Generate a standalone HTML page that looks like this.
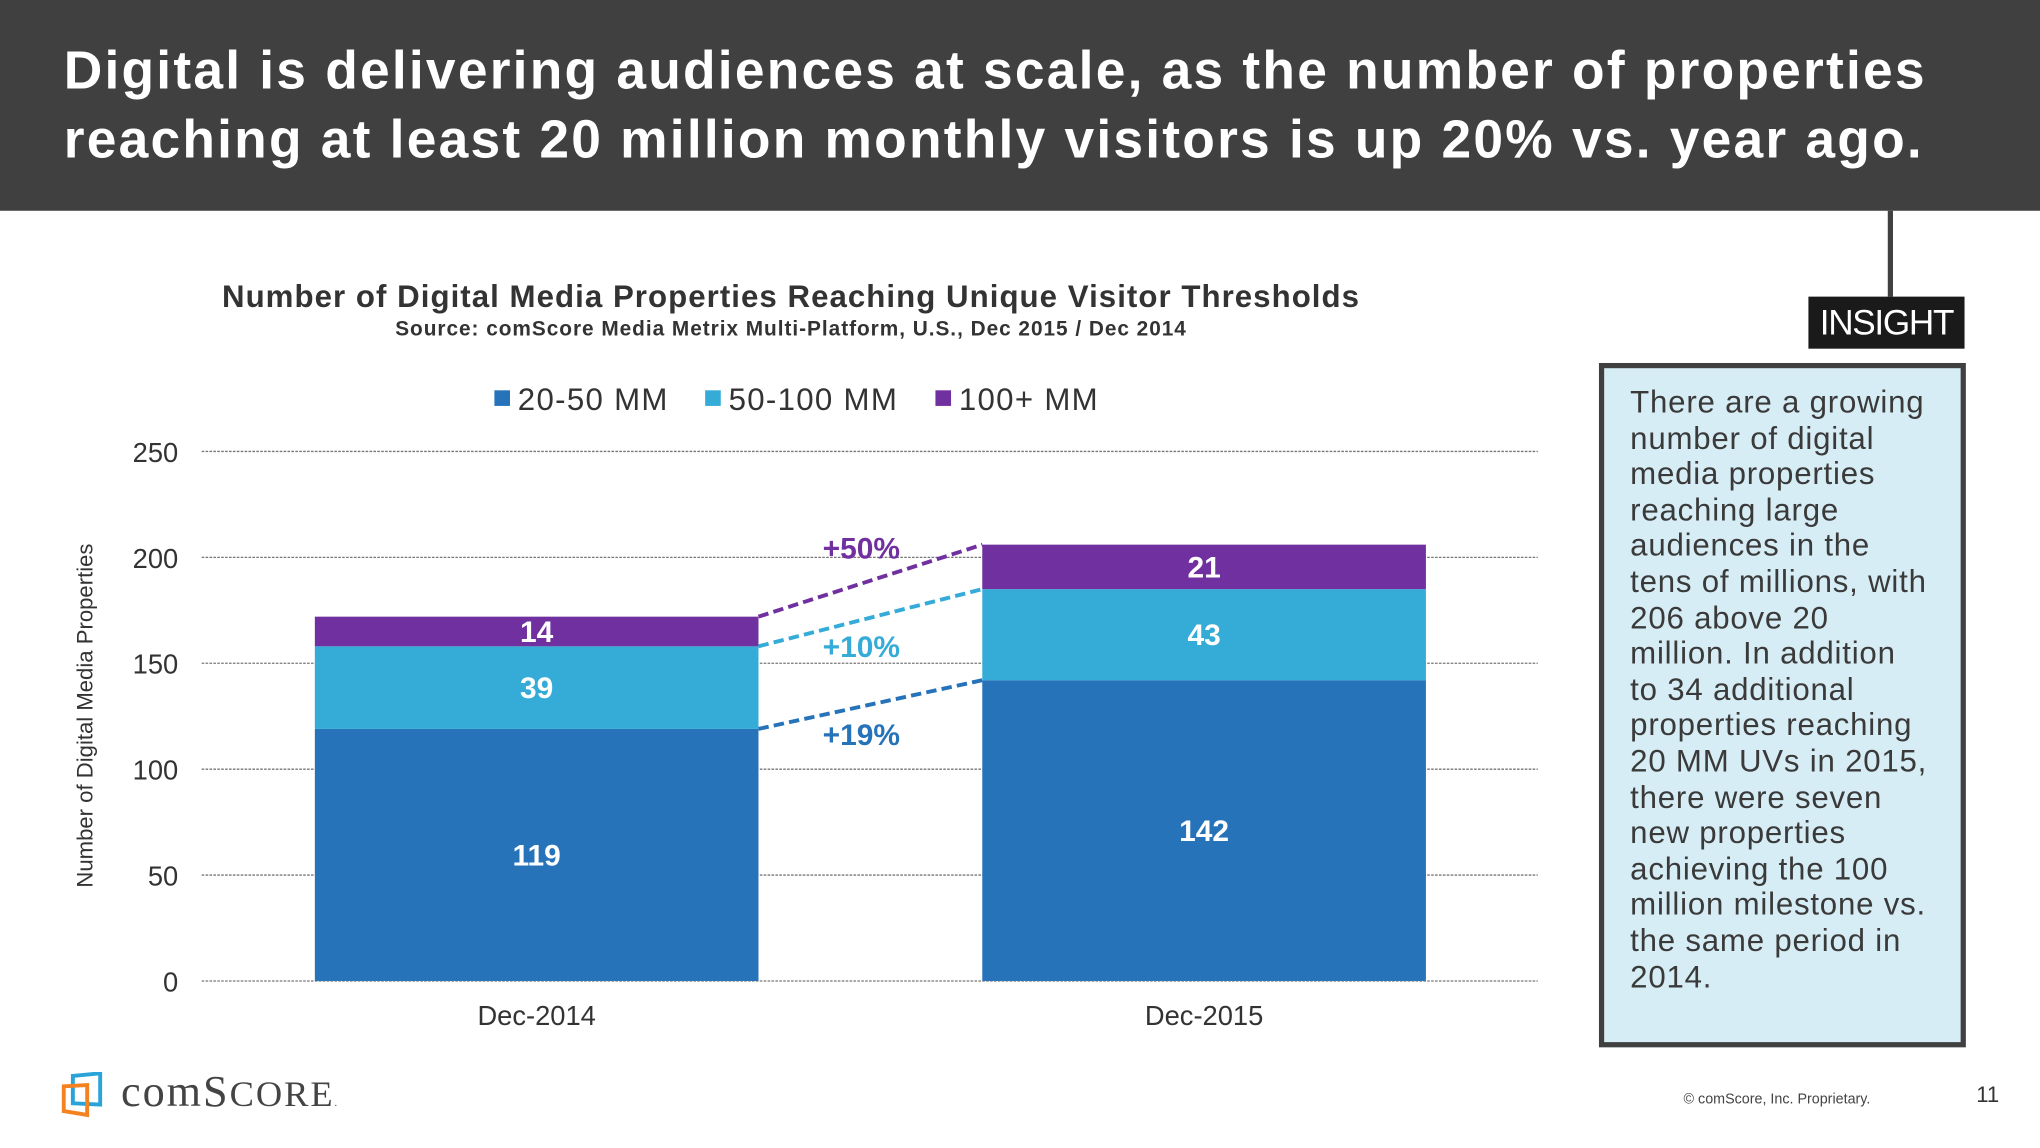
<!DOCTYPE html>
<html><head><meta charset="utf-8">
<style>
html,body{margin:0;padding:0;width:2040px;height:1148px;overflow:hidden;background:#fff;}
#wrap{position:absolute;left:0;top:0;width:1568px;height:882.4px;transform:scale(1.30102);transform-origin:0 0;font-family:"Liberation Sans",Arial,sans-serif;}
.abs{position:absolute;}
#header{left:0;top:0;width:1568px;height:162px;background:#404040;}
#title{left:49px;top:28px;color:#fff;font-weight:bold;font-size:41px;line-height:53px;white-space:nowrap;letter-spacing:1.7px;}
#insight-box{left:1229px;top:279px;width:274px;height:518px;background:#d7edf5;border:4px solid #404040;}
#insight-text{left:1253px;top:296px;font-size:24px;line-height:27.6px;color:#3a3a3a;white-space:nowrap;letter-spacing:0.6px;}
</style></head><body>
<div id="wrap">
<div id="header" class="abs"></div>
<div id="title" class="abs">Digital is delivering audiences at scale, as the number of properties<br>reaching at least 20 million monthly visitors is up 20% vs. year ago.</div>
<div class="abs" style="left:1451px;top:162px;width:4px;height:66px;background:#404040"></div>
<div class="abs" style="left:1390px;top:228px;width:120px;height:40px;background:#1a1a1a;color:#fff;font-size:27px;line-height:40px;text-align:center;letter-spacing:-1px">INSIGHT</div>
<div id="insight-box" class="abs"></div>
<div id="insight-text" class="abs">There are a growing<br>number of digital<br>media properties<br>reaching large<br>audiences in the<br>tens of millions, with<br>206 above 20<br>million. In addition<br>to 34 additional<br>properties reaching<br>20 MM UVs in 2015,<br>there were seven<br>new properties<br>achieving the 100<br>million milestone vs.<br>the same period in<br>2014.</div>

<svg class="abs" style="left:0;top:0" width="1568" height="882">
<text x="608" y="236" text-anchor="middle" font-size="24" font-weight="bold" fill="#333" letter-spacing="0.8">Number of Digital Media Properties Reaching Unique Visitor Thresholds</text>
<text x="608" y="258" text-anchor="middle" font-size="16" font-weight="bold" fill="#333" letter-spacing="0.75">Source: comScore Media Metrix Multi-Platform, U.S., Dec 2015 / Dec 2014</text>
<text transform="translate(71,550) rotate(-90)" text-anchor="middle" font-size="17" fill="#333">Number of Digital Media Properties</text>
<g id="grid"></g><g id="bars"></g><g id="legend"></g>
</svg>

<svg class="abs" style="left:46px;top:824px" width="40" height="36">
<path d="M10 3 L31 1 L31 25 L10 24 Z" fill="none" stroke="#2aa3d8" stroke-width="3"/>
<path d="M3 11 L21 10 L21 33 L3 30 Z" fill="none" stroke="#f58220" stroke-width="3"/>
</svg>
<div class="abs" style="left:93px;top:821px;font-family:'Liberation Serif',serif;font-size:34px;color:#444;letter-spacing:1.5px">comS<span style="font-size:28px">CORE</span><span style="font-size:8px">.</span></div>
<div class="abs" style="left:1294px;top:839px;font-size:11px;color:#444">© comScore, Inc. Proprietary.</div>
<div class="abs" style="left:1519px;top:832px;font-size:17px;color:#333">11</div>
</div>
<script>
const categories=["Dec-2014","Dec-2015"];
const seriesNames=["20-50 MM","50-100 MM","100+ MM"];
const s1=[119,142];
const s2=[39,43];
const s3=[14,21];
const growthLabels=["+19%","+10%","+50%"];
const yTicks=[0,50,100,150,200,250];
const NS="http://www.w3.org/2000/svg";
const colors=["#2773b9","#35acd7","#7030a0"];
const y0=754,yPer=(754-347)/250,xL=155,xR=1182;
const barX=[242,755],barW=341;
function y(v){return y0-v*yPer;}
function mk(tag,attrs,parent){const e=document.createElementNS(NS,tag);for(const k in attrs)e.setAttribute(k,attrs[k]);parent.appendChild(e);return e;}
const grid=document.getElementById('grid'),bars=document.getElementById('bars'),leg=document.getElementById('legend');
yTicks.forEach(t=>{
 const l=mk('line',{x1:xL,x2:xR,y1:y(t),y2:y(t),stroke:'#777','stroke-width':1,'stroke-dasharray':'2,1'},grid);
 
 
 const tx=mk('text',{x:137,y:y(t)+8,'text-anchor':'end','font-size':21,fill:'#333'},grid);tx.textContent=t;
 
 
});
const series=[s1,s2,s3];
const tops=[];
categories.forEach((c,i)=>{
 let base=0;tops[i]=[];
 series.forEach((s,j)=>{
  const v=s[i];
  const r=mk('rect',{x:barX[i],y:y(base+v),width:barW,height:v*yPer,fill:colors[j]},bars);
  
  
  const t=mk('text',{x:barX[i]+barW/2,y:y(base+v/2)+8,'text-anchor':'middle','font-size':23,'font-weight':'bold',fill:'#fff'},bars);t.textContent=v;
  
  
  base+=v;tops[i].push(base);
 });
 const xl=mk('text',{x:barX[i]+barW/2,y:788,'text-anchor':'middle','font-size':21,fill:'#333'},bars);xl.textContent=c;
 
 
});
const labDy=[31,30,-17];
series.forEach((s,j)=>{
 const x1=barX[0]+barW,x2=barX[1];
 const l=mk('line',{x1:x1,y1:y(tops[0][j]),x2:x2,y2:y(tops[1][j]),stroke:colors[j],'stroke-width':3,'stroke-dasharray':'8,4'},bars);
 
 
 const my=(y(tops[0][j])+y(tops[1][j]))/2;
 const t=mk('text',{x:662,y:my+labDy[j],'text-anchor':'middle','font-size':23,'font-weight':'bold',fill:colors[j]},bars);t.textContent=growthLabels[j];
 
 
});
const lx=[380,542,719];
seriesNames.forEach((n,j)=>{
 const r=mk('rect',{x:lx[j],y:300,width:12,height:12,fill:colors[j]},leg);
 
 
 const t=mk('text',{x:lx[j]+18,y:315,'font-size':24,fill:'#333','letter-spacing':1},leg);t.textContent=n;
 
 
});
</script>
</body></html>
